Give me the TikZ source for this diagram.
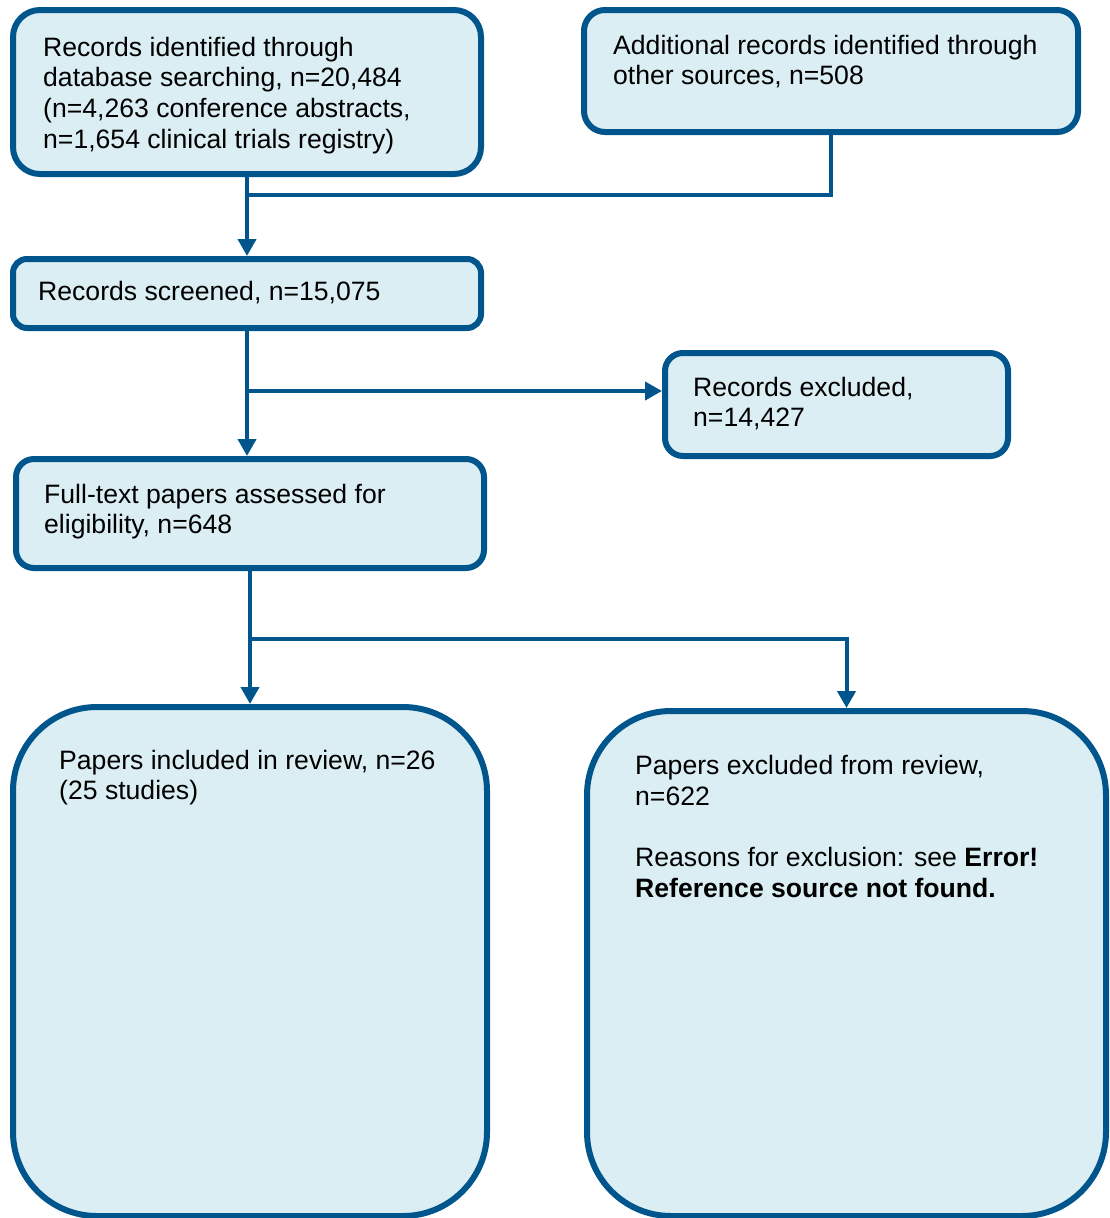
\documentclass[tikz,border=0pt]{standalone}
\usepackage{fontspec}
\setmainfont{Liberation Sans}
\usepackage{tikz}
\usetikzlibrary{arrows.meta,positioning,calc}
\usepackage{xcolor}
\definecolor{flowBlue}{HTML}{00558C}
\definecolor{flowFill}{HTML}{DAEEF3}

\begin{document}
\begin{tikzpicture}[x=1pt, y=-1pt,
    box/.style={draw=flowBlue, fill=flowFill, line width=6pt,
                anchor=north west, inner sep=0pt},
    txt/.style={anchor=base west, align=left, inner sep=0pt,
                font=\fontsize{26.6}{30.6}\selectfont},
    conn/.style={draw=flowBlue, line width=4pt},
    arr/.style={conn, -{Triangle[width=18pt,length=17pt]}}]
    \useasboundingbox (0,0) rectangle (1109,1218);
    % boxes
    \node[box, rounded corners=27pt, minimum width=468pt, minimum height=164pt]
         (ident) at (10,7) {};
    \node[box, rounded corners=21pt, minimum width=494pt, minimum height=122pt]
         (other) at (581,7) {};
    \node[box, rounded corners=14pt, minimum width=468pt, minimum height=69pt]
         (screen) at (10,256) {};
    \node[box, rounded corners=18pt, minimum width=343pt, minimum height=103pt]
         (excl) at (662,350) {};
    \node[box, rounded corners=18pt, minimum width=468pt, minimum height=109pt]
         (full) at (13,456) {};
    \node[box, rounded corners=84pt, minimum width=474pt, minimum height=509pt]
         (incl) at (10,704) {};
    \node[box, rounded corners=84pt, minimum width=519pt, minimum height=505pt]
         (rej) at (584,708) {};
    % texts (base = last line)
    \node[txt] (identtxt) at (43,148) {Records identified through\\
        database searching, n=20,484\\ (n=4,263 conference abstracts,\\
        n=1,654 clinical trials registry)};
    \node[txt] (othertxt) at (613,84.6) {Additional records identified through\\
        other sources, n=508};
    \node[txt] (screentxt) at (38,300) {Records screened, n=15,075};
    \node[txt] (excltxt) at (693,426.6) {Records excluded,\\ n=14,427};
    \node[txt] (fulltxt) at (44,533.6) {Full-text papers assessed for\\
        eligibility, n=648};
    \node[txt] (incltxt) at (59,799.6) {Papers included in review, n=26\\
        (25 studies)};
    \node[txt] (rejtxt) at (635,897) {Papers excluded from review,\\ n=622\\[30.6pt]
        Reasons for exclusion: see \textbf{Error!}\\
        \textbf{Reference source not found.}};
    % connectors
    \coordinate (join1) at (248,195);
    \coordinate (join2) at (247,391);
    \coordinate (join3) at (250,639);
    \draw[arr] (ident.south) -- (screen.north);
    \draw[conn] (other.south) |- (join1);
    \draw[arr] (screen.south) -- (screen.south |- full.north);
    \draw[arr] (join2) -- (join2 -| excl.west);
    \draw[arr] (full.south) -- (incl.north);
    \draw[arr] (join3) -| (rej.north);
\end{tikzpicture}
\end{document}
